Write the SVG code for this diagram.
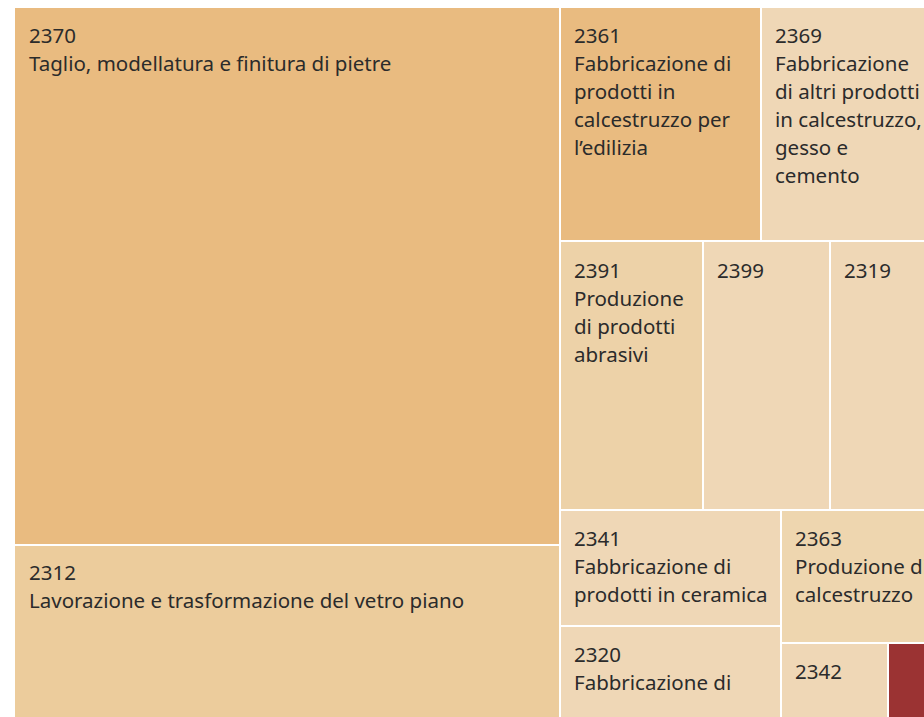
<svg xmlns="http://www.w3.org/2000/svg" width="924" height="717" viewBox="0 0 924 717">
<style>
text{font-family:"Noto Sans","Liberation Sans",sans-serif;font-size:20.5px;fill:#2b2b2b}
.c1{fill:#E9BB80}.c2{fill:#ECCC9C}.c3{fill:#EFD7B6}.c4{fill:#EDD2A8}.c5{fill:#EED6AF}.red{fill:#9B3333}
</style>
<rect width="924" height="717" fill="#ffffff"/>
<g id="n2370"><rect class="c1" x="15" y="8" width="544" height="536"/><text x="29" y="43">2370</text><text x="29" y="71">Taglio, modellatura e finitura di pietre</text></g>
<g id="n2312"><rect class="c2" x="15" y="546" width="544" height="171"/><text x="29" y="580">2312</text><text x="29" y="608">Lavorazione e trasformazione del vetro piano</text></g>
<g id="n2361"><rect class="c1" x="561" y="8" width="199" height="232"/><text x="574" y="43">2361</text><text x="574" y="71">Fabbricazione di</text><text x="574" y="99">prodotti in</text><text x="574" y="127">calcestruzzo per</text><text x="574" y="155">l’edilizia</text></g>
<g id="n2369"><rect class="c3" x="762" y="8" width="162" height="232"/><text x="775" y="43">2369</text><text x="775" y="71">Fabbricazione</text><text x="775" y="99">di altri prodotti</text><text x="775" y="127">in calcestruzzo,</text><text x="775" y="155">gesso e</text><text x="775" y="183">cemento</text></g>
<g id="n2391"><rect class="c4" x="561" y="242" width="141" height="267"/><text x="574" y="278">2391</text><text x="574" y="306">Produzione</text><text x="574" y="334">di prodotti</text><text x="574" y="362">abrasivi</text></g>
<g id="n2399"><rect class="c3" x="704" y="242" width="125" height="267"/><text x="717" y="278">2399</text></g>
<g id="n2319"><rect class="c3" x="831" y="242" width="93" height="267"/><text x="844" y="278">2319</text></g>
<g id="n2341"><rect class="c3" x="561" y="511" width="219" height="114"/><text x="574" y="546">2341</text><text x="574" y="574">Fabbricazione di</text><text x="574" y="602">prodotti in ceramica</text></g>
<g id="n2320"><rect class="c3" x="561" y="627" width="219" height="90"/><text x="574" y="662">2320</text><text x="574" y="690">Fabbricazione di</text></g>
<g id="n2363"><rect class="c5" x="782" y="511" width="142" height="131"/><text x="795" y="546">2363</text><text x="795" y="574">Produzione di</text><text x="795" y="602">calcestruzzo</text></g>
<g id="n2342"><rect class="c3" x="782" y="644" width="105" height="73"/><text x="795" y="679">2342</text></g>
<g id="nred"><rect class="red" x="889" y="644" width="35" height="73"/></g>
<g id="connectors"></g>
</svg>
